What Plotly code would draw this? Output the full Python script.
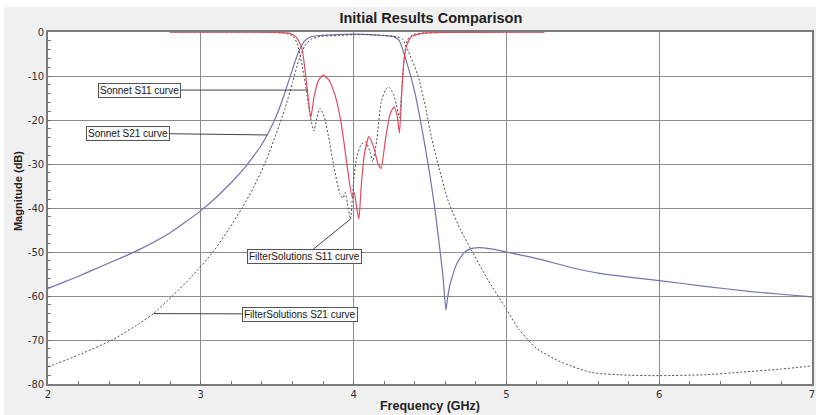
import plotly.graph_objects as go

# --- Sonnet S21 (EM simulation, insertion loss) ---
sonnet_s21_f = [2.0, 2.1, 2.2, 2.3, 2.4, 2.5, 2.6, 2.7, 2.8, 2.9, 3.0, 3.1, 3.2, 3.3, 3.35,
                3.4, 3.45, 3.5, 3.55, 3.6, 3.64, 3.68, 3.72, 3.78, 3.9, 4.0, 4.1, 4.2, 4.26,
                4.30, 4.34, 4.40, 4.45, 4.49, 4.53, 4.583, 4.604, 4.615, 4.63, 4.646, 4.665,
                4.689, 4.72, 4.755, 4.82, 4.9, 5.0, 5.2, 5.41, 5.6, 5.8, 6.0, 6.3, 6.6, 6.8, 7.0]
sonnet_s21_db = [-58.3, -56.9, -55.5, -54.0, -52.5, -51.0, -49.4, -47.6, -45.6, -43.2, -40.6,
                 -37.6, -34.2, -30.3, -28.0, -25.5, -22.4, -18.6, -13.8, -8.5, -4.5, -2.0, -1.1,
                 -0.8, -0.6, -0.5, -0.6, -0.8, -1.0, -2.0, -6.0, -13.6, -22.5, -30.5, -39.7,
                 -54.8, -63.2, -60.5, -57.5, -55.6, -53.5, -51.8, -50.3, -49.4, -49.0, -49.3,
                 -50.0, -51.5, -53.4, -54.8, -55.7, -56.5, -57.8, -59.0, -59.6, -60.2]

# --- FilterSolutions S21 (ideal synthesis) ---
fs_s21_f = [2.0, 2.2, 2.42, 2.6, 2.69, 2.82, 2.94, 3.08, 3.18, 3.27, 3.35, 3.43, 3.50, 3.55, 3.60,
            3.64, 3.68, 3.72, 3.78, 3.9, 4.0, 4.1, 4.2, 4.28, 4.32, 4.36, 4.42, 4.47, 4.51, 4.56,
            4.62, 4.70, 4.77, 4.88, 5.0, 5.08, 5.2, 5.37, 5.56, 5.8, 6.0, 6.3, 6.54, 6.8, 7.0]
fs_s21_db = [-76.1, -73.4, -70.0, -66.2, -64.0, -59.8, -55.6, -50.0, -45.0, -40.0, -35.0, -29.0,
             -22.5, -17.5, -11.5, -6.5, -3.2, -1.7, -1.0, -0.8, -0.6, -0.6, -0.8, -1.1, -1.6,
             -4.5, -9.8, -17.0, -24.0, -31.0, -38.5, -45.0, -49.5, -56.4, -63.0, -67.5, -72.0,
             -75.2, -77.4, -78.0, -78.1, -77.9, -77.3, -76.6, -75.9]

# --- Sonnet S11 (return loss) ---
sonnet_s11_f = [2.8, 3.2, 3.5, 3.58, 3.62, 3.66, 3.68, 3.70, 3.72, 3.74, 3.77, 3.80, 3.84, 3.88,
                3.92, 3.96, 3.99, 4.005, 4.02, 4.035, 4.05, 4.07, 4.10, 4.13, 4.16, 4.18, 4.21,
                4.24, 4.265, 4.285, 4.30, 4.315, 4.33, 4.35, 4.38, 4.45, 4.6, 5.0, 5.25]
sonnet_s11_db = [-0.05, -0.05, -0.1, -0.3, -1.0, -3.5, -8.0, -14.0, -19.5, -15.0, -11.0, -9.8,
                 -11.0, -14.5, -21.0, -31.0, -37.5, -36.5, -40.0, -42.5, -35.0, -28.0, -23.8,
                 -26.0, -30.0, -31.0, -24.0, -18.5, -17.0, -19.0, -23.0, -14.0, -6.5, -2.8,
                 -1.0, -0.3, -0.1, -0.05, -0.05]

# --- FilterSolutions S11 ---
fs_s11_f = [2.8, 3.2, 3.45, 3.55, 3.60, 3.63, 3.66, 3.69, 3.71, 3.74, 3.76, 3.78, 3.81, 3.84,
            3.87, 3.91, 3.93, 3.945, 3.965, 3.98, 4.0, 4.02, 4.05, 4.08, 4.11, 4.125, 4.15,
            4.18, 4.21, 4.23, 4.26, 4.28, 4.30, 4.315, 4.33, 4.35, 4.38, 4.45, 4.6, 5.0, 5.25]
fs_s11_db = [-0.05, -0.05, -0.1, -0.3, -0.8, -2.5, -7.0, -13.0, -18.0, -22.5, -19.5, -17.3,
             -19.5, -24.5, -30.5, -36.7, -37.8, -36.5, -40.0, -42.5, -34.0, -28.5, -25.5,
             -25.0, -27.5, -29.5, -25.0, -16.0, -13.0, -12.5, -14.0, -16.5, -19.5, -13.0,
             -6.0, -2.0, -0.7, -0.2, -0.05, -0.05, -0.05]

x_ticks = [2, 3, 4, 5, 6, 7]
y_ticks = [0, -10, -20, -30, -40, -50, -60, -70, -80]

# Callout labels: (text, label x, label y, target x, target y)
callouts = [
    ("Sonnet S11 curve", 2.60, -13.2, 3.697, -13.2),
    ("Sonnet S21 curve", 2.522, -23.0, 3.434, -23.4),
    ("FilterSolutions S11 curve", 3.678, -51.0, 3.98, -42.5),
    ("FilterSolutions S21 curve", 3.651, -64.1, 2.69, -64.0),
]

BLUE = "#7272b4"
RED = "#e24a5c"
DOT = "#4a4a4a"
BASE_FONT = "Liberation Sans, Arial, sans-serif"

fig = go.Figure()
fig.add_trace(go.Scatter(x=sonnet_s21_f, y=sonnet_s21_db, mode="lines", name="Sonnet S21",
                         line=dict(color=BLUE, width=1.2, shape="spline", smoothing=0.5)))
fig.add_trace(go.Scatter(x=fs_s21_f, y=fs_s21_db, mode="lines", name="FilterSolutions S21",
                         line=dict(color=DOT, width=1, dash="2px,2px", shape="spline", smoothing=0.6)))
fig.add_trace(go.Scatter(x=fs_s11_f, y=fs_s11_db, mode="lines", name="FilterSolutions S11",
                         line=dict(color=DOT, width=1, dash="2px,2px", shape="spline", smoothing=0.5)))
fig.add_trace(go.Scatter(x=sonnet_s11_f, y=sonnet_s11_db, mode="lines", name="Sonnet S11",
                         line=dict(color=RED, width=1.2, shape="spline", smoothing=0.5)))

for text, lx, ly, tx, ty in callouts:
    fig.add_annotation(
        x=tx, y=ty, ax=lx, ay=ly, xref="x", yref="y", axref="x", ayref="y",
        text=text, showarrow=True, arrowhead=0, arrowwidth=1, arrowcolor="#444",
        font=dict(family=BASE_FONT, size=10, color="#222"),
        bgcolor="#fafafa", bordercolor="#555", borderwidth=1, borderpad=1,
    )

# vertical axis title, placed beside the tick labels
fig.add_annotation(
    text="<b>Magnitude (dB)</b>", textangle=-90,
    xref="paper", yref="paper", x=(18 - 48) / 766, y=(384 - 191) / 352,
    xanchor="center", yanchor="middle", showarrow=False,
    font=dict(family=BASE_FONT, size=11, color="#222"),
)

# thin white frame along the top and left edges of the grey panel
fig.add_shape(type="rect", xref="paper", yref="paper", x0=-0.07, x1=1.01, y0=1.071, y1=1.1,
              fillcolor="white", line=dict(width=0))
fig.add_shape(type="rect", xref="paper", yref="paper", x0=-0.07, x1=-0.0574, y0=-0.1, y1=1.1,
              fillcolor="white", line=dict(width=0))

axis_common = dict(
    showgrid=True, gridcolor="#8c8c8c", gridwidth=1, zeroline=False,
    showline=True, linecolor="#7a7a7a", linewidth=1.6, mirror=True, layer="below traces",
    ticks="inside", ticklen=3, tickcolor="#666",
    tickfont=dict(family="DejaVu Sans, sans-serif", size=10, color="#333"),
)

fig.update_layout(
    width=816, height=415,
    margin=dict(l=48, r=2, t=32, b=31),
    paper_bgcolor="#f0f0f0", plot_bgcolor="white",
    showlegend=False,
    title=dict(text="<b>Initial Results Comparison</b>", x=0.528, xanchor="center",
               y=1 - 18 / 415, yanchor="middle", yref="container",
               font=dict(family=BASE_FONT, size=14.5, color="#222")),
    xaxis=dict(
        range=[2, 7], tickvals=x_ticks, ticktext=[str(v) for v in x_ticks],
        minor=dict(dtick=0.2, ticks="inside", ticklen=3, tickcolor="#777", showgrid=False),
        title=dict(text="<b>Frequency (GHz)</b>", standoff=2,
                   font=dict(family=BASE_FONT, size=12.5, color="#222")),
        **axis_common,
    ),
    yaxis=dict(
        range=[-80, 0], tickvals=y_ticks, ticktext=[str(v) for v in y_ticks],
        minor=dict(dtick=2, ticks="inside", ticklen=3, tickcolor="#777", showgrid=False),
        **axis_common,
    ),
)

fig.write_html("out.html")
